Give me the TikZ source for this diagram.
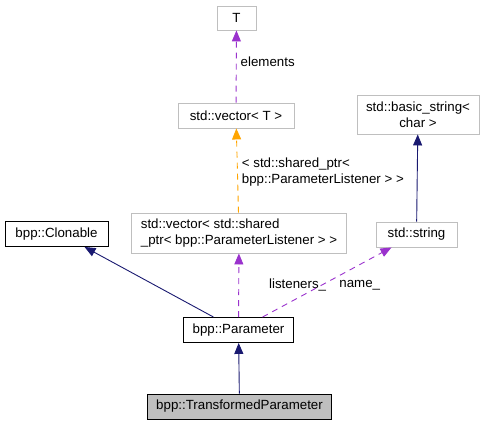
\documentclass[tikz,border=0pt]{standalone}
\usepackage{fontspec}
\setmainfont{Liberation Sans}
\usepackage{xcolor}
\usepackage{tikz}
\usetikzlibrary{arrows.meta,positioning}

\definecolor{inhblue}{HTML}{191970}
\definecolor{usepurple}{HTML}{9A32CD}
\definecolor{tmplorange}{HTML}{FFA500}
\definecolor{extgray}{HTML}{BFBFBF}

\begin{document}
\begin{tikzpicture}[
    x=1pt, y=-1pt,
    every node/.style={font=\fontsize{13.3}{16}\selectfont},
    cls/.style={draw=black, line width=0.9pt, fill=white, inner xsep=9pt, minimum height=25pt},
    ext/.style={draw=extgray, line width=0.9pt, fill=white, inner xsep=9pt, minimum height=25pt},
    cur/.style={cls, fill=extgray},
    inh/.style={-{Triangle[length=11pt,width=9pt]}, draw=inhblue, line width=0.9pt},
    use/.style={-{Triangle[length=11pt,width=9pt]}, draw=usepurple, line width=0.9pt, dash pattern=on 6pt off 5pt},
    tmpl/.style={-{Triangle[length=11pt,width=9pt]}, draw=tmplorange, line width=0.9pt, dash pattern=on 6pt off 5pt},
    lbl/.style={inner sep=0pt, align=left}
]
\useasboundingbox (0,0) rectangle (489,425);

% Classes
\node[cur] (tp) at (239.5,406.5) {bpp::TransformedParameter};
\node[cls] (param) at (238.5,330) {bpp::Parameter};
\node[cls, minimum width=103pt] (clon) at (56.5,234) {bpp::Clonable};
\node[ext, align=left, minimum height=40pt] (vecsp) at (239,233) {std::vector< std::shared\\\_ptr< bpp::ParameterListener > >};
\node[ext, minimum width=81pt] (str) at (416.5,234.5) {std::string};
\node[ext, align=center, minimum width=122pt, minimum height=39pt] (bstr) at (418,114.5) {std::basic\_string<\\char >};
\node[ext, minimum width=116pt] (vect) at (236,115.5) {std::vector< T >};
\node[ext, minimum width=39pt, minimum height=24pt] (tt) at (236.5,18) {T};

% Inheritance
\draw[inh] (tp) -- (param);
\draw[inh] ([xshift=-25pt]param.north) -- ([xshift=28pt]clon.south);
\draw[inh] (str) -- (bstr);

% Usage
\draw[use] (param) -- (vecsp) node[lbl, pos=0.5, anchor=west, xshift=30pt] {listeners\_};
\draw[use] ([xshift=24pt]param.north) -- ([xshift=-25pt]str.south) node[lbl, pos=0.5, anchor=west, xshift=12pt, yshift=-3pt] {name\_};
\draw[use] (vect) -- (tt) node[lbl, pos=0.56, anchor=west, xshift=4pt] {elements};

% Template instance
\draw[tmpl] (vecsp) -- (vect) node[lbl, pos=0.48, anchor=west, xshift=4pt] {< std::shared\_ptr<\\bpp::ParameterListener > >};
\end{tikzpicture}
\end{document}
